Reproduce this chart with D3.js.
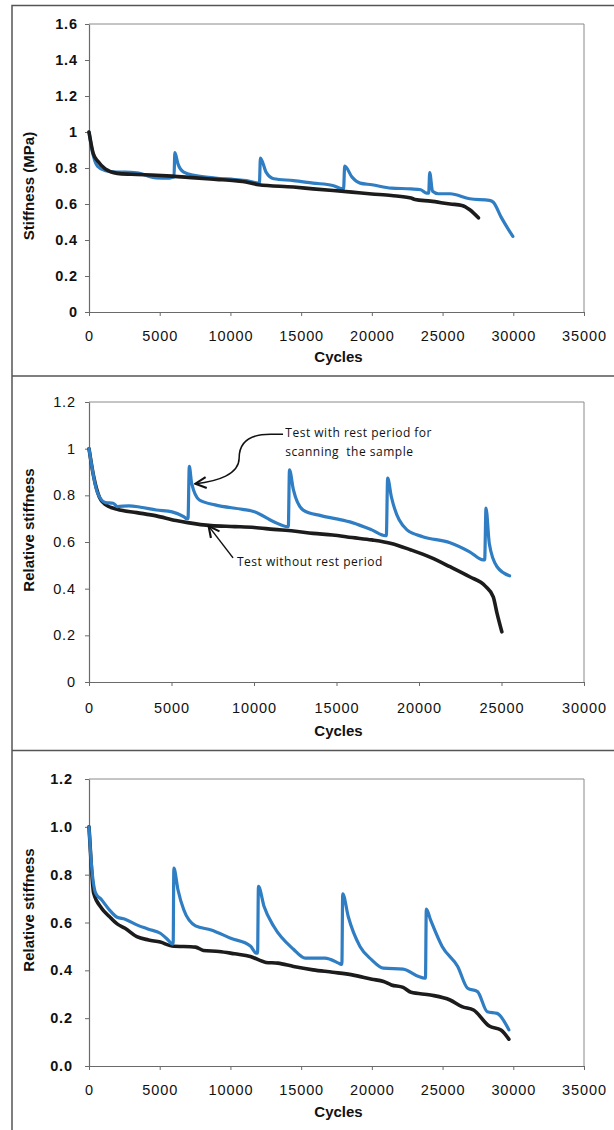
<!DOCTYPE html>
<html>
<head>
<meta charset="utf-8">
<script src="https://cdn.jsdelivr.net/npm/d3@7"></script>
<style>
  body { margin: 0; background: #fff; }
  svg { display: block; }
</style>
</head>
<body>
<script>
// ---- data: [cycles, value] ----
const xTicksA = [0, 5000, 10000, 15000, 20000, 25000, 30000, 35000];
const xTicksB = [0, 5000, 10000, 15000, 20000, 25000, 30000];
const yTicksA = [0, 0.2, 0.4, 0.6, 0.8, 1, 1.2, 1.4, 1.6];
const yTicksB = [0, 0.2, 0.4, 0.6, 0.8, 1, 1.2];

// panel 1: stiffness (MPa)
const p1NoRest = [[0,1.0],[300,0.88],[600,0.84],[1150,0.795],[2000,0.77],[3000,0.765],[4760,0.76],[5870,0.755],[7530,0.745],[9000,0.737],[10300,0.73],[10860,0.725],[12000,0.707],[14460,0.694],[15840,0.684],[18600,0.666],[20000,0.656],[21380,0.647],[22770,0.633],[23050,0.625],[24150,0.616],[25540,0.60],[26370,0.592],[26925,0.568],[27535,0.523]];
const p1Rest = [[0,1.0],[300,0.87],[600,0.81],[1160,0.785],[2000,0.777],[2550,0.777],[3380,0.773],[4760,0.745],[5600,0.744],[5930,0.749],[6010,0.75],[6070,0.885],[6290,0.823],[6700,0.777],[7530,0.758],[8920,0.744],[10300,0.736],[11140,0.73],[12000,0.716],[12050,0.716],[12120,0.855],[12520,0.777],[13070,0.74],[14460,0.73],[15840,0.716],[17230,0.703],[17920,0.684],[18000,0.684],[18080,0.81],[18600,0.749],[19170,0.716],[20000,0.707],[21380,0.688],[22770,0.684],[23460,0.679],[23880,0.66],[24020,0.66],[24090,0.775],[24290,0.671],[24710,0.657],[25540,0.657],[26925,0.629],[28310,0.62],[28590,0.61],[29140,0.527],[29970,0.42]];

// panel 2: relative stiffness
const p2NoRest = [[0,1.0],[285,0.88],[640,0.79],[1000,0.76],[1710,0.74],[2900,0.726],[4080,0.712],[5270,0.692],[5980,0.683],[7400,0.67],[8830,0.666],[10020,0.662],[11200,0.654],[12390,0.647],[13580,0.637],[14760,0.63],[15950,0.619],[17140,0.609],[18320,0.594],[19510,0.566],[20700,0.534],[21880,0.494],[23070,0.451],[24020,0.411],[24500,0.365],[24730,0.294],[25020,0.215]];
const p2Rest = [[0,1.0],[520,0.81],[1000,0.769],[1470,0.766],[1710,0.752],[2420,0.755],[3130,0.749],[4080,0.737],[5030,0.729],[5740,0.709],[5930,0.70],[6000,0.70],[6080,0.924],[6220,0.852],[6690,0.78],[7640,0.759],[9300,0.74],[10020,0.73],[11200,0.687],[12030,0.666],[12080,0.666],[12150,0.909],[12390,0.823],[12980,0.737],[14050,0.713],[15000,0.699],[15950,0.683],[17140,0.652],[17970,0.627],[18020,0.627],[18100,0.874],[18320,0.795],[19270,0.652],[20220,0.623],[21880,0.597],[23070,0.558],[23900,0.523],[23980,0.523],[24060,0.745],[24260,0.594],[24730,0.494],[25490,0.455]];

// panel 3: relative stiffness
const p3NoRest = [[0,1.0],[150,0.85],[330,0.723],[890,0.66],[1440,0.625],[1990,0.594],[2550,0.576],[3380,0.541],[4210,0.527],[5040,0.518],[5870,0.502],[7530,0.497],[8090,0.483],[9190,0.479],[10300,0.469],[11410,0.458],[12520,0.433],[13350,0.43],[14460,0.416],[15840,0.402],[17230,0.392],[18610,0.381],[20000,0.363],[20830,0.353],[21380,0.339],[22210,0.329],[22770,0.308],[24150,0.297],[25530,0.276],[26370,0.248],[27190,0.234],[28300,0.167],[29130,0.151],[29690,0.112]];
const p3Rest = [[0,1.0],[150,0.86],[470,0.723],[890,0.695],[1440,0.653],[1990,0.622],[2550,0.614],[3380,0.59],[4210,0.572],[5040,0.555],[5590,0.527],[5870,0.511],[5950,0.511],[6000,0.827],[6290,0.737],[6700,0.653],[7530,0.586],[8640,0.569],[10020,0.534],[11410,0.502],[11830,0.472],[11920,0.472],[11980,0.751],[12380,0.667],[13070,0.583],[14460,0.488],[15290,0.451],[16680,0.451],[17650,0.43],[17830,0.425],[17880,0.425],[17940,0.72],[18330,0.625],[19160,0.5],[19990,0.444],[20820,0.409],[22210,0.405],[23310,0.374],[23730,0.367],[23790,0.367],[23850,0.656],[24150,0.611],[24970,0.5],[26070,0.416],[26770,0.325],[27470,0.311],[28160,0.227],[28860,0.22],[29690,0.151]];

const width = 614, height = 1130;
const blue = "#2f7dc2", black = "#1c1c1c";
const font = "'Liberation Sans', Arial, sans-serif";

const svg = d3.select("body").append("svg")
    .attr("width", width)
    .attr("height", height);

// outer frame of the figure
svg.append("path")
    .attr("d", "M12,1130 L12,5.5 L614,5.5 M12,376 L614,376 M12,750.5 L614,750.5")
    .attr("fill", "none")
    .attr("stroke", "#555")
    .attr("stroke-width", 1.5);

const panels = [
    {top: 24, bottom: 312, xMax: 35000, xTicks: xTicksA, yMax: 1.6, yTicks: yTicksA,
     yFmt: d => String(+d.toFixed(1)), yBold: true, yPad: 7, xPad: 15,
     yTitle: "Stiffness (MPa)", yTitleY: 186, cyclesY: 358,
     series: [[p1Rest, blue], [p1NoRest, black]]},
    {top: 402, bottom: 682, xMax: 30000, xTicks: xTicksB, yMax: 1.2, yTicks: yTicksB,
     yFmt: d => String(+d.toFixed(1)), yBold: false, yPad: 9, xPad: 17,
     yTitle: "Relative stiffness", yTitleY: 530, cyclesY: 732,
     series: [[p2NoRest, black], [p2Rest, blue]]},
    {top: 779, bottom: 1066, xMax: 35000, xTicks: xTicksA, yMax: 1.2, yTicks: yTicksB,
     yFmt: d3.format(".1f"), yBold: true, yPad: 12, xPad: 15,
     yTitle: "Relative stiffness", yTitleY: 910, cyclesY: 1113,
     series: [[p3NoRest, black], [p3Rest, blue]]}
];

const left = 89, right = 584;
const scales = [];

panels.forEach(p => {
    const x = d3.scaleLinear().domain([0, p.xMax]).range([left, right]);
    const y = d3.scaleLinear().domain([0, p.yMax]).range([p.bottom, p.top]);
    scales.push({x, y});

    // plot frame (top / right)
    svg.append("path")
        .attr("d", `M${left},${p.top} L${right},${p.top} L${right},${p.bottom}`)
        .attr("fill", "none")
        .attr("stroke", "#8a8a8a")
        .attr("stroke-width", 1);

    const gy = svg.append("g")
        .attr("transform", `translate(${left},0)`)
        .call(d3.axisLeft(y).tickValues(p.yTicks).tickFormat(p.yFmt).tickSize(4).tickSizeOuter(0).tickPadding(p.yPad));
    const gx = svg.append("g")
        .attr("transform", `translate(0,${p.bottom})`)
        .call(d3.axisBottom(x).tickValues(p.xTicks).tickSize(4).tickSizeOuter(0).tickPadding(p.xPad).tickFormat(d3.format("d")));

    [gy, gx].forEach(g => {
        g.select(".domain").attr("stroke", "#6a6a6a").attr("stroke-width", 1.2);
        g.selectAll(".tick line").attr("stroke", "#6a6a6a");
        g.selectAll("text")
            .attr("fill", "#111")
            .style("font-family", font)
            .style("font-size", "14.5px")
            .style("letter-spacing", "0.9px");
    });
    if (p.yBold) gy.selectAll("text").style("font-weight", "bold");

    const line = d3.line()
        .x(d => x(d[0]))
        .y(d => y(d[1]))
        .curve(d3.curveMonotoneX);

    p.series.forEach(([data, color]) => {
        svg.append("path")
            .datum(data)
            .attr("fill", "none")
            .attr("stroke", color)
            .attr("stroke-width", color === black ? 3.6 : 3.2)
            .attr("stroke-linejoin", "round")
            .attr("stroke-linecap", "round")
            .attr("d", line);
    });

    svg.append("text")
        .attr("x", (left + right) / 2 + 2)
        .attr("y", p.cyclesY)
        .attr("text-anchor", "middle")
        .attr("dominant-baseline", "middle")
        .style("font-family", font)
        .style("font-size", "15px")
        .style("font-weight", "bold")
        .attr("fill", "#111")
        .text("Cycles");

    svg.append("text")
        .attr("transform", `translate(30,${p.yTitleY}) rotate(-90)`)
        .attr("text-anchor", "middle")
        .attr("dominant-baseline", "middle")
        .style("font-family", font)
        .style("font-size", "15px")
        .style("font-weight", "bold")
        .attr("fill", "#111")
        .text(p.yTitle);
});

// ---- annotations on panel 2 ----
const {x: x2, y: y2} = scales[1];
const noteFont = "'Open Sans', 'DejaVu Sans', sans-serif";

svg.append("defs").append("marker")
    .attr("id", "head")
    .attr("viewBox", "0 0 10 10")
    .attr("refX", 9).attr("refY", 5)
    .attr("markerWidth", 9).attr("markerHeight", 9)
    .attr("orient", "auto")
    .append("path")
    .attr("d", "M1,1 L9,5 L1,9")
    .attr("fill", "none")
    .attr("stroke", "#111")
    .attr("stroke-width", 1.6);

const notes = [
    {lines: ["Test with rest period for", "scanning  the sample"], at: [11900, 1.062]},
    {lines: ["Test without rest period"], at: [8970, 0.51]}
];
notes.forEach(n => {
    n.lines.forEach((t, i) => {
        svg.append("text")
            .attr("x", x2(n.at[0]))
            .attr("y", y2(n.at[1]) + i * 19)
            .attr("dominant-baseline", "middle")
            .style("font-family", noteFont)
            .style("font-size", "12px")
            .style("letter-spacing", "0.5px")
            .style("white-space", "pre")
            .attr("fill", "#111")
            .text(t);
    });
});

// curved arrow to the first recovery peak
const p = d3.path();
p.moveTo(x2(11760), y2(1.062));
p.lineTo(x2(11000), y2(1.062));
p.bezierCurveTo(x2(9300), y2(1.062), x2(9100), y2(1.0), x2(9100), y2(0.96));
p.bezierCurveTo(x2(9100), y2(0.89), x2(7800), y2(0.86), x2(6450), y2(0.85));
svg.append("path")
    .attr("d", p.toString())
    .attr("fill", "none")
    .attr("stroke", "#111")
    .attr("stroke-width", 1.5)
    .attr("marker-end", "url(#head)");

svg.append("line")
    .attr("x1", x2(8730)).attr("y1", y2(0.532))
    .attr("x2", x2(7250)).attr("y2", y2(0.668))
    .attr("stroke", "#111")
    .attr("stroke-width", 1.5)
    .attr("marker-end", "url(#head)");
</script>
</body>
</html>
